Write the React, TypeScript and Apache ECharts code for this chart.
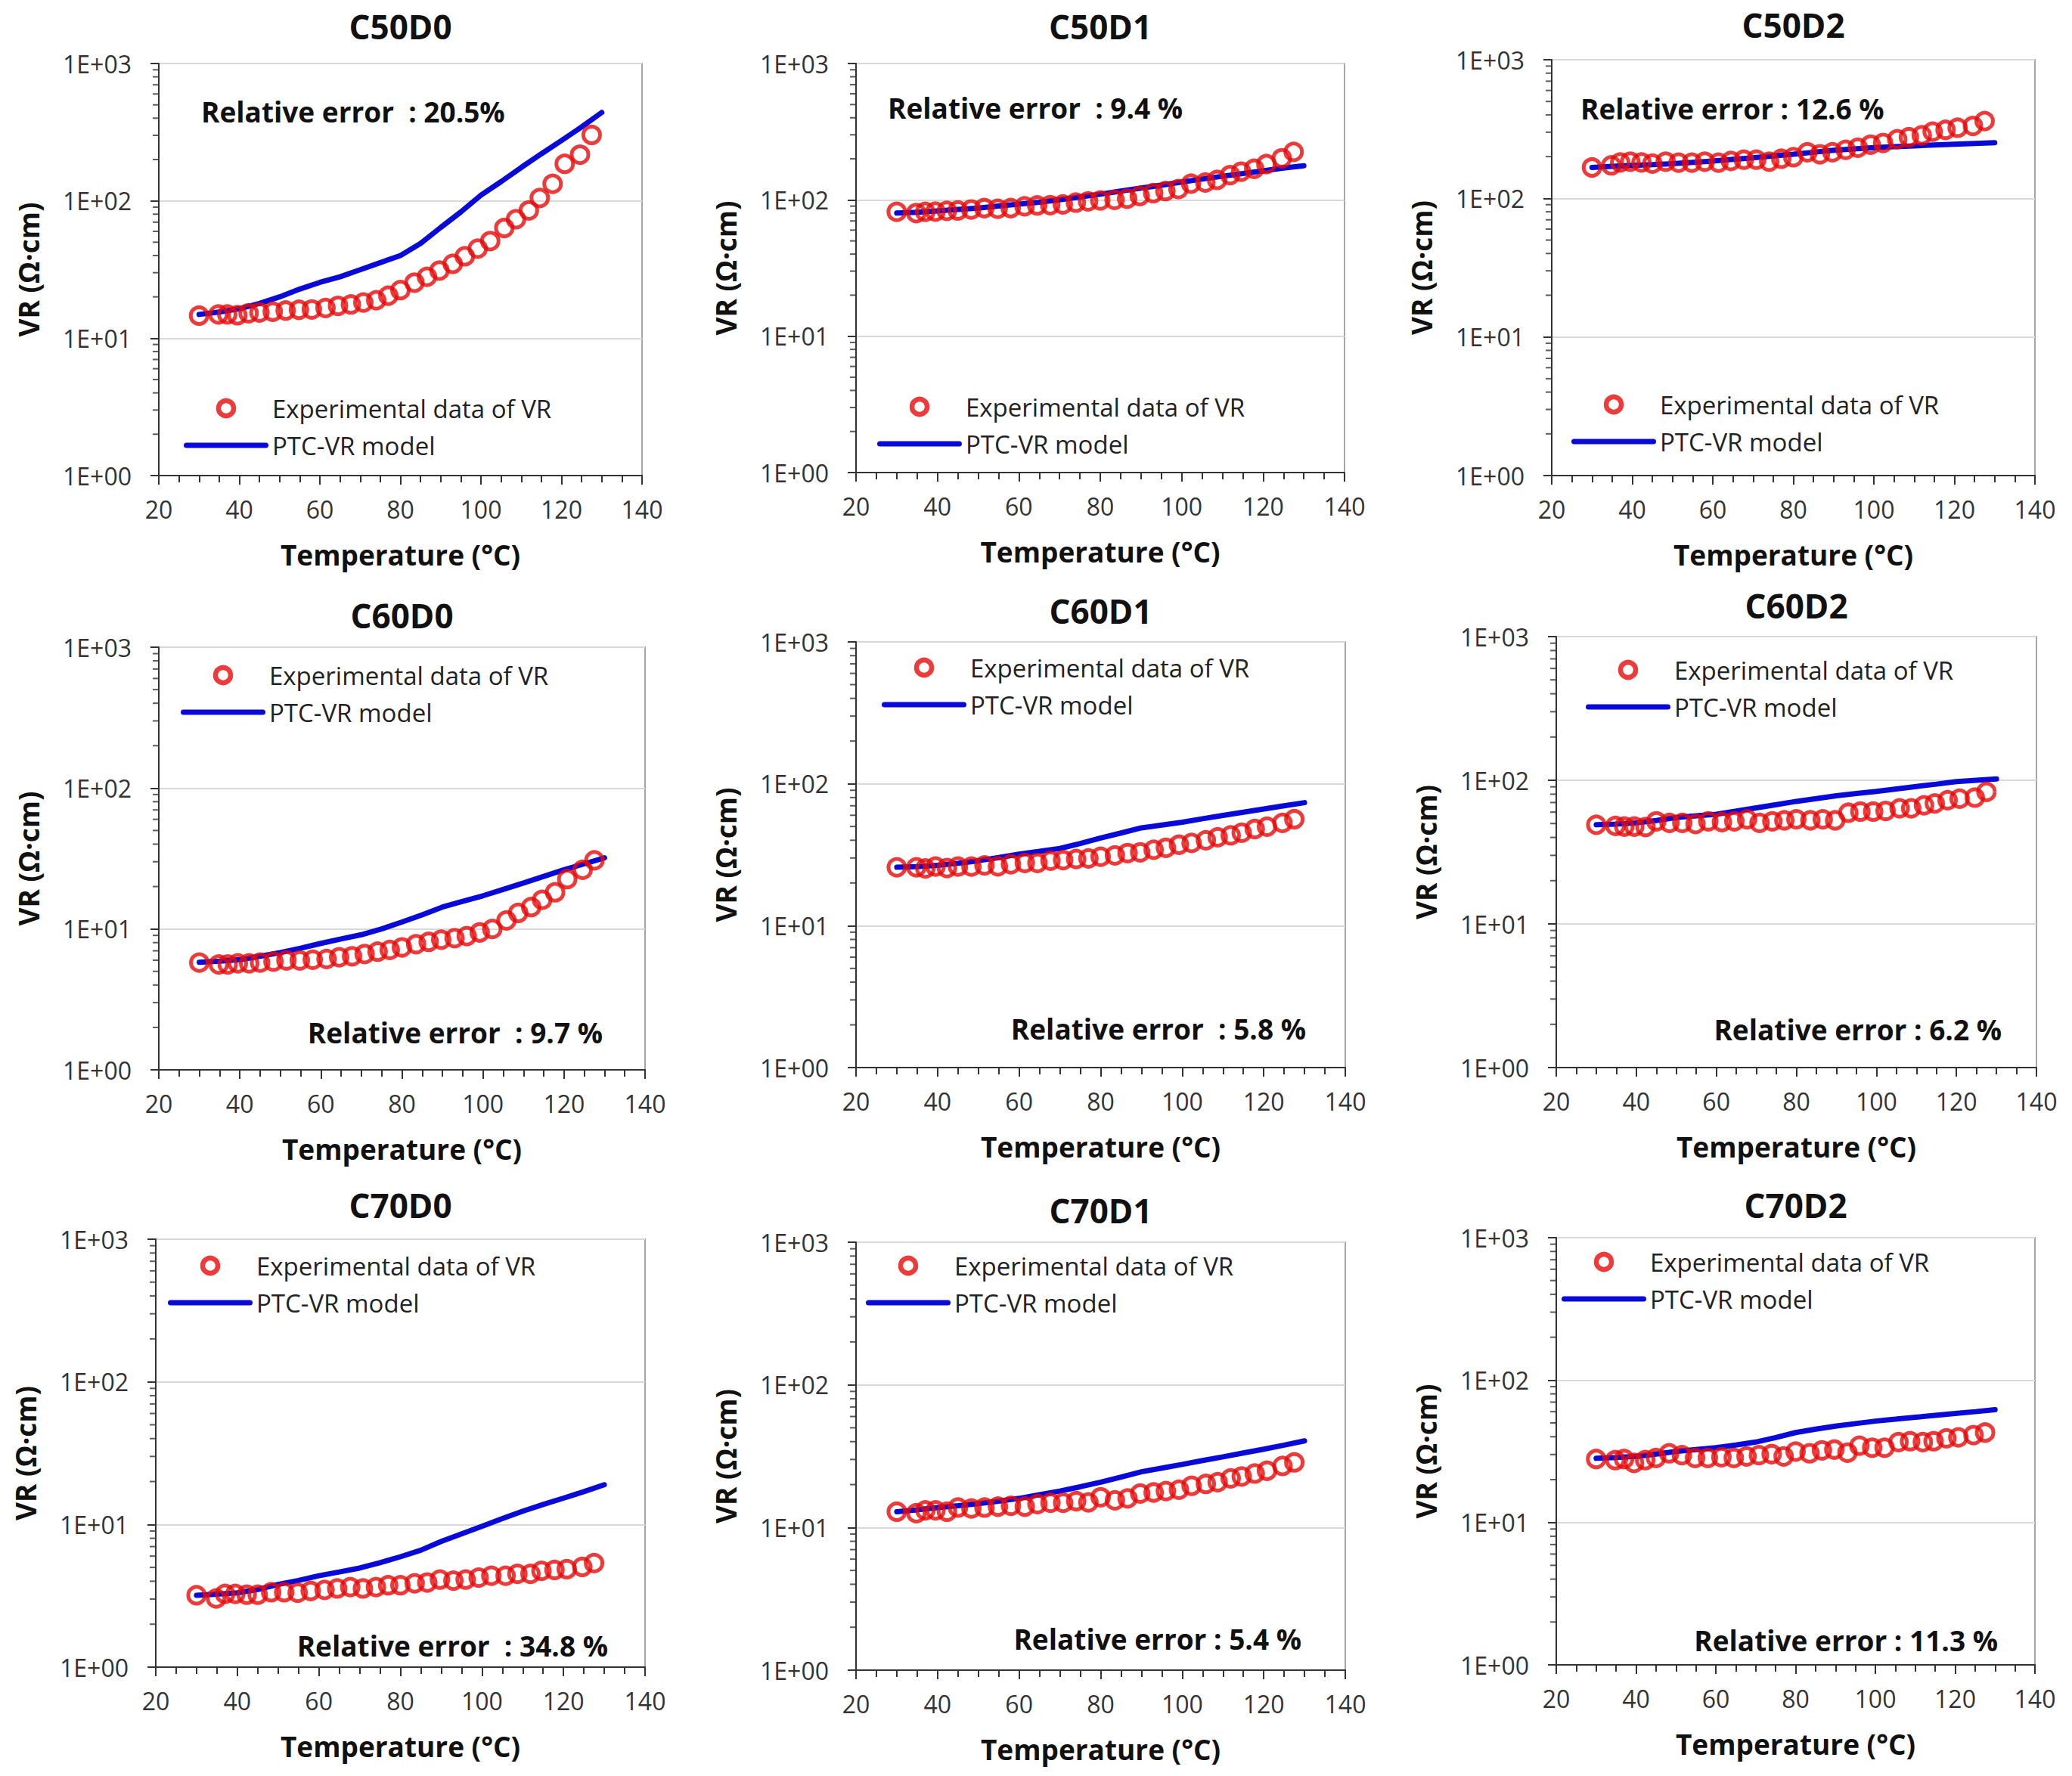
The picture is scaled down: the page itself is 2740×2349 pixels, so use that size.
import React, { useEffect, useRef } from 'react';
import * as echarts from 'echarts';

// ---------------- DATA ----------------
const panelNames = ['C50D0', 'C50D1', 'C50D2', 'C60D0', 'C60D1', 'C60D2', 'C70D0', 'C70D1', 'C70D2'];
const relErrorTexts = [
  'Relative error  : 20.5%',
  'Relative error  : 9.4 %',
  'Relative error : 12.6 %',
  'Relative error  : 9.7 %',
  'Relative error  : 5.8 %',
  'Relative error : 6.2 %',
  'Relative error  : 34.8 %',
  'Relative error : 5.4 %',
  'Relative error : 11.3 %',
];
const seriesExpName = 'Experimental data of VR';
const seriesModelName = 'PTC-VR model';
const xAxisName = 'Temperature (°C)';
const yAxisName = 'VR (Ω·cm)';

const expTemps = [30, 34.8, 37, 39.5, 42.3, 45, 48.3, 51.5, 54.8, 58, 61.4, 64.5, 67.7, 70.8, 74, 77, 80, 83.5, 86.6, 89.7, 93, 96, 99.2, 102.3, 105.8, 108.7, 111.9, 114.6, 117.8, 120.8, 124.6, 127.5];
const modelTemps = [30, 35, 40, 45, 50, 55, 60, 65, 70, 75, 80, 85, 90, 95, 100, 105, 110, 115, 120, 125, 130];

const expC50D0 = [14.6, 14.9, 14.9, 14.7, 15.2, 15.4, 15.6, 15.9, 16.1, 16.2, 16.6, 17.2, 17.6, 18.2, 18.9, 20.4, 22.4, 25.4, 28, 31.1, 34.8, 39.5, 44.9, 51, 63.5, 73.5, 85.2, 105, 133, 186, 217, 302];
const modelC50D0 = [14.9, 15.5, 16.4, 17.9, 20, 22.8, 25.5, 28, 31.5, 35.5, 40, 49, 64, 83, 110, 138, 175, 220, 275, 345, 440];

const expC50D1 = [81.7, 80, 81.7, 82, 83, 83.5, 85, 87, 86, 87, 89.6, 91, 91.5, 92.6, 95.5, 97.5, 99, 100, 102, 106.7, 112, 116, 120, 131.6, 134, 140, 152, 161, 169, 183, 202, 225];
const modelC50D1 = [80, 81, 83, 85, 87, 90, 93, 96, 100, 105, 110, 116, 122, 128, 135, 142, 149, 156, 163, 171, 178];

const expC50D2 = [167, 173, 181.5, 184, 181.5, 178, 184, 181, 181, 184, 181, 186, 190, 190, 184, 193, 198, 215, 208, 215, 224, 232, 244, 251, 267, 276, 285, 303, 312, 323, 333, 361];
const modelC50D2 = [167, 170, 173, 175, 178, 182, 186, 191, 196, 202, 208, 215, 222, 227, 232, 236, 239, 243, 246, 249, 252];

const expC60D0 = [5.77, 5.6, 5.6, 5.7, 5.7, 5.77, 5.87, 5.98, 5.98, 6.05, 6.12, 6.3, 6.4, 6.64, 6.9, 7.1, 7.4, 7.8, 8.1, 8.4, 8.6, 8.9, 9.45, 10, 11.5, 13, 14.3, 16.1, 18.2, 22.6, 26.3, 30.7];
const modelC60D0 = [5.8, 5.9, 6.05, 6.4, 6.8, 7.3, 7.9, 8.5, 9.1, 10, 11.2, 12.6, 14.3, 15.7, 17.2, 19.1, 21.2, 23.6, 26.3, 29, 32];

const expC60D1 = [25.8, 25.8, 25.3, 26.1, 25.5, 26.1, 26.1, 26.6, 26.2, 27.1, 27.7, 27.7, 28.7, 29, 29.5, 29.8, 30.6, 31.3, 32.5, 32.9, 34.3, 35.4, 37.2, 38.3, 40, 42, 43.3, 45.2, 48, 49.9, 53, 56.3];
const modelC60D1 = [25.8, 26.1, 26.6, 27.5, 28.7, 30.2, 31.9, 33.4, 35, 38, 41.5, 45, 48.9, 51.2, 53.6, 56.7, 59.9, 63, 66.4, 70, 73.6];

const expC60D2 = [49, 48.1, 47.6, 47.6, 47.3, 51.8, 50.5, 50.5, 49.6, 51.8, 51.2, 51.8, 53.5, 50.5, 51.8, 52.6, 53.5, 52.6, 53.5, 52.6, 59.4, 60.5, 60.5, 61.2, 63.8, 63.8, 66.9, 69, 72.6, 74.4, 75.7, 83];
const modelC60D2 = [49, 49.5, 50.5, 52.5, 55, 56.5, 58, 61, 64.3, 67.7, 71.3, 74.5, 78, 80.8, 83.6, 87, 90.5, 94, 97.8, 100, 102];

const expC70D0 = [3.19, 3.03, 3.26, 3.26, 3.22, 3.22, 3.35, 3.35, 3.32, 3.42, 3.48, 3.56, 3.64, 3.56, 3.64, 3.75, 3.75, 3.87, 3.92, 4.11, 4.04, 4.11, 4.24, 4.37, 4.37, 4.51, 4.51, 4.73, 4.8, 4.86, 5.04, 5.36];
const modelC70D0 = [3.19, 3.25, 3.32, 3.5, 3.8, 4.05, 4.37, 4.65, 4.95, 5.4, 5.94, 6.6, 7.6, 8.6, 9.7, 11, 12.4, 13.8, 15.3, 17, 19];

const expC70D1 = [12.9, 12.6, 13.2, 13.2, 12.9, 13.8, 13.6, 13.8, 14, 14.2, 14, 14.6, 14.9, 14.9, 15.3, 15, 16.3, 15.5, 16, 17.3, 17.6, 18, 18.4, 19.6, 20.2, 20.8, 22.1, 22.8, 23.9, 25, 27, 28.6];
const modelC70D1 = [12.9, 13.3, 13.8, 14.2, 14.7, 15.3, 16, 17, 18, 19.3, 20.8, 22.6, 24.6, 26.1, 27.7, 29.5, 31.3, 33.3, 35.4, 37.8, 40.5];

const expC70D2 = [27.9, 27.4, 27.9, 26.2, 27.4, 28.4, 30.6, 29.7, 28.4, 28.4, 28.7, 28.4, 29.1, 29.7, 30.2, 29.1, 31.5, 30.6, 32.1, 32.5, 30.9, 34.6, 33.5, 33.5, 36.7, 37.2, 36.7, 37.2, 39, 39.6, 41.1, 42.8];
const modelC70D2 = [28.2, 28.6, 29.1, 30.2, 31.5, 32.5, 33.5, 35, 36.7, 39.5, 42.8, 45.2, 47.5, 49.5, 51.5, 53.1, 54.8, 56.5, 58.2, 60, 62];

const expSeries = [expC50D0, expC50D1, expC50D2, expC60D0, expC60D1, expC60D2, expC70D0, expC70D1, expC70D2];
const modelSeries = [modelC50D0, modelC50D1, modelC50D2, modelC60D0, modelC60D1, modelC60D2, modelC70D0, modelC70D1, modelC70D2];

const yMinorTickValues = [2, 3, 4, 5, 6, 7, 8, 9, 20, 30, 40, 50, 60, 70, 80, 90, 200, 300, 400, 500, 600, 700, 800, 900];

// ---------------- LAYOUT / STYLE ----------------
const W = 2740;
const H = 2349;
const FONT = '"Open Sans", "Liberation Sans", sans-serif';
const RED = '#e60a0a';
const BLUE = '#0a0ad8';
const AXIS = '#333333';

// plot rectangles [left, top, width, height]
const grids = [
  [210, 84, 639, 545],
  [1132, 84, 646, 541],
  [2052, 79, 639, 550],
  [210, 856, 643, 559],
  [1132, 849, 647, 563],
  [2058, 842, 635, 570],
  [206, 1639, 647, 566],
  [1132, 1643, 647, 566],
  [2058, 1637, 633, 565],
];
const titleY = [35, 35, 33, 814, 808, 801, 1594, 1601, 1594];
// legend: [iconLeft, firstRowCenterY]
const legendPos = [
  [243, 540], [1160, 538], [2078, 535],
  [239, 893], [1166, 883], [2097, 886],
  [222, 1674], [1145, 1674], [2065, 1669],
];
// error text: [x, y, align]
const errPos: [number, number, string][] = [
  [266, 147, 'left'], [1174, 142, 'left'], [2090, 143, 'left'],
  [797, 1365, 'right'], [1727, 1360, 'right'], [2647, 1361, 'right'],
  [804, 2176, 'right'], [1721, 2167, 'right'], [2642, 2169, 'right'],
];

function fmtLog(v: number) {
  const e = Math.round(Math.log10(v));
  return '1E+' + (e < 10 ? '0' : '') + e;
}

function buildOption() {
  const gridOpts: any[] = [];
  const xAxes: any[] = [];
  const yAxes: any[] = [];
  const series: any[] = [];
  const legends: any[] = [];
  const graphics: any[] = [];

  panelNames.forEach((name, i) => {
    const [l, t, w, h] = grids[i];
    gridOpts.push({
      left: l, top: t, width: w, height: h,
      show: true, borderColor: '#a6a6a6', borderWidth: 2, backgroundColor: '#fff',
      containLabel: false,
    });
    xAxes.push({
      type: 'value', gridIndex: i, min: 20, max: 140, interval: 20,
      name: xAxisName, nameLocation: 'middle', nameGap: 86,
      nameTextStyle: { fontFamily: FONT, fontSize: 37, fontWeight: 'bold', color: '#111' },
      axisLine: { show: true, onZero: false, lineStyle: { color: AXIS, width: 2 } },
      axisTick: { show: true, length: 12, lineStyle: { color: AXIS, width: 2 } },
      minorTick: { show: true, splitNumber: 4, length: 9, lineStyle: { color: AXIS, width: 2 } },
      axisLabel: { fontFamily: FONT, fontSize: 32, color: '#333', margin: 28 },
      splitLine: { show: false },
    });
    yAxes.push({
      type: 'log', logBase: 10, gridIndex: i, min: 1, max: 1000,
      name: yAxisName, nameLocation: 'middle', nameGap: 154,
      nameTextStyle: { fontFamily: FONT, fontSize: 37, fontWeight: 'bold', color: '#111' },
      axisLine: { show: true, lineStyle: { color: AXIS, width: 2 } },
      axisTick: { show: true, length: 11, lineStyle: { color: AXIS, width: 2 } },
      axisLabel: { fontFamily: FONT, fontSize: 32, color: '#333', margin: 36, formatter: fmtLog },
      splitLine: { show: true, lineStyle: { color: '#d9d9d9', width: 2 } },
    });
    series.push({
      type: 'scatter', name: '', xAxisIndex: i, yAxisIndex: i, silent: true, clip: false,
      symbol: 'rect', symbolSize: [8, 2], symbolOffset: [-4, 0], z: 3,
      itemStyle: { color: AXIS },
      data: yMinorTickValues.map((v) => [20, v]),
    });
    series.push({
      type: 'line', name: seriesModelName, xAxisIndex: i, yAxisIndex: i,
      symbol: 'none', showSymbol: false, smooth: false, z: 4,
      color: BLUE,
      lineStyle: { color: BLUE, width: 7, cap: 'round' },
      data: modelTemps.map((x, k) => [x, modelSeries[i][k]]),
    });
    series.push({
      type: 'scatter', name: seriesExpName, xAxisIndex: i, yAxisIndex: i, z: 5,
      symbol: 'circle', symbolSize: 22,
      itemStyle: { color: 'transparent', borderColor: RED, borderWidth: 5 },
      data: expTemps.map((x, k) => [x, expSeries[i][k]]),
    });
    const [lx, ly] = legendPos[i];
    legends.push({
      orient: 'vertical', left: lx, top: ly - 17, padding: 0,
      itemWidth: 112, itemHeight: 20, itemGap: 15, selectedMode: false,
      textStyle: { fontFamily: FONT, fontSize: 33, color: '#222', lineHeight: 34 },
      data: [
        { name: seriesExpName, icon: 'circle', itemStyle: { color: 'rgba(255,255,255,0)', borderColor: RED, borderWidth: 6.5 } },
        { name: seriesModelName, icon: 'path://M3.5,0 L108.5,0 A3.5,3.5 0 0 1 108.5,7 L3.5,7 A3.5,3.5 0 0 1 3.5,0 Z', itemStyle: { color: BLUE, borderWidth: 0 } },
      ],
    });
    graphics.push({
      type: 'text', x: l + w / 2, y: titleY[i], z: 10,
      style: { text: name, fontFamily: FONT, fontSize: 44, fontWeight: 'bold', fill: '#111', align: 'center', verticalAlign: 'middle' },
    });
    const [ex, ey, ea] = errPos[i];
    graphics.push({
      type: 'text', x: ex, y: ey, z: 10,
      style: { text: relErrorTexts[i], fontFamily: FONT, fontSize: 37, fontWeight: 'bold', fill: '#111', align: ea, verticalAlign: 'middle' },
    });
  });

  return {
    animation: false,
    backgroundColor: '#ffffff',
    grid: gridOpts,
    xAxis: xAxes,
    yAxis: yAxes,
    legend: legends,
    series,
    graphic: graphics,
  };
}

export default function App() {
  const ref = useRef<HTMLDivElement>(null);
  useEffect(() => {
    document.body.style.margin = '0';
    if (!ref.current) return;
    const chart = echarts.init(ref.current, null, { renderer: 'svg', width: W, height: H });
    chart.setOption(buildOption() as any);
    return () => chart.dispose();
  }, []);
  return <div ref={ref} style={{ width: W, height: H, background: '#fff' }} />;
}
